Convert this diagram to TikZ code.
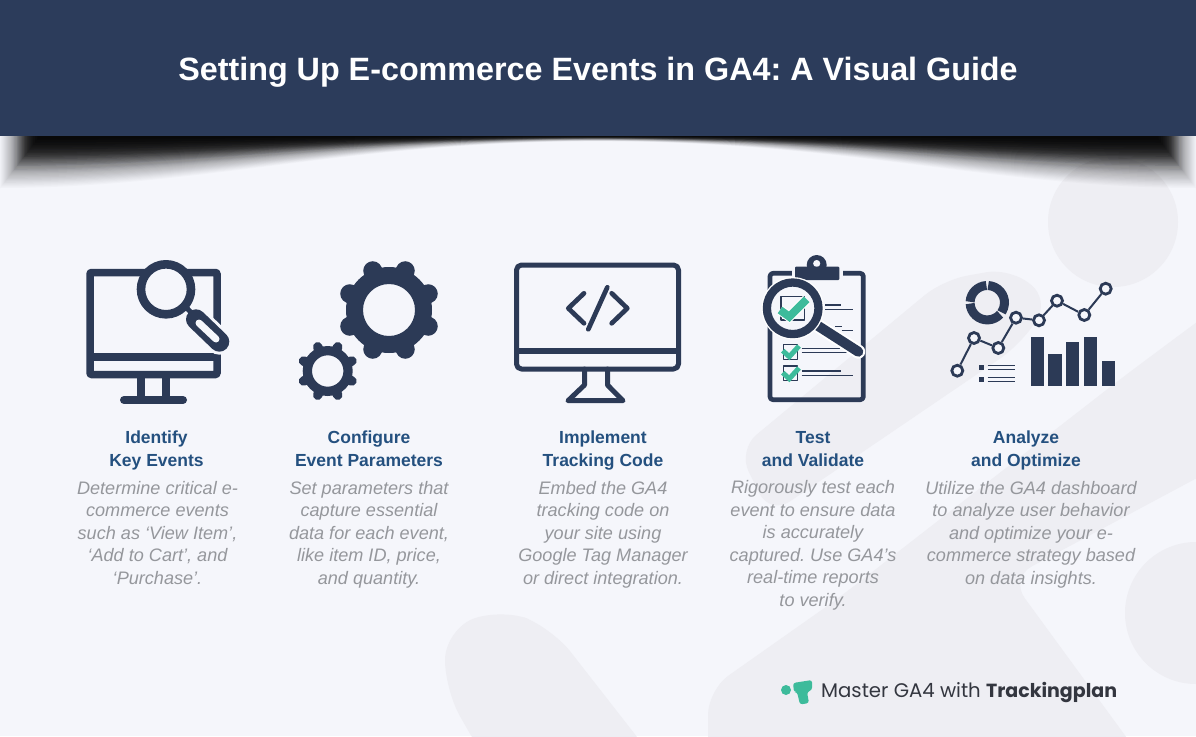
\documentclass[tikz,border=0pt]{standalone}
\usepackage{fontspec}
\setmainfont{Liberation Sans}
\newfontfamily\logofont{Poppins}
\usetikzlibrary{positioning}
\frenchspacing
\definecolor{pagebg}{HTML}{F5F6FB}
\definecolor{blobgray}{HTML}{EEEEF3}
\definecolor{bandblue}{HTML}{2C3C5B}
\definecolor{iconblue}{HTML}{2C3A56}
\definecolor{headblue}{HTML}{24507F}
\definecolor{bodygray}{HTML}{95979C}
\definecolor{checkgreen}{HTML}{3DBB9B}
\definecolor{logotext}{HTML}{33363F}
\tikzstyle{headtext} = [text=headblue, align=center, inner sep=0pt,
    font=\fontsize{17.5}{23}\selectfont\bfseries, execute at begin node=\strut]
\tikzstyle{bodytext} = [text=bodygray, align=center, inner sep=0pt,
    font=\fontsize{18.1}{22.5}\selectfont\itshape, execute at begin node=\strut]
\tikzstyle{iconline} = [draw=iconblue, line join=round]
\tikzstyle{dotmark} = [circle, draw=iconblue, fill=pagebg, line width=2.8pt, minimum size=11pt, inner sep=0pt]
\tikzstyle{barfill} = [fill=iconblue]
\tikzstyle{thinline} = [draw=iconblue, line width=1.3pt]

\begin{document}
\begin{tikzpicture}[x=1pt, y=-1pt]
	\useasboundingbox (0,0) rectangle (1196,736);
	\fill [pagebg] (0,0) rectangle (1196,736);

	% background shapes
	\fill [blobgray] (1113,222) circle (65);
	\fill [blobgray] (1196,613) circle (71);
	\fill [blobgray, rounded corners=24pt] (770,515) -- (738,450) -- (943,280) -- (1010,268) -- (1050,300) -- (1020,345) -- cycle;
	\fill [blobgray, rounded corners=25pt] (708,790) -- (708,690) -- (840,597) -- (1123,377) -- (1240,290) -- (1240,455) -- (1010,578) -- (1143,760) -- cycle;
	\fill [blobgray, rounded corners=30pt] (485,760) -- (445,690) -- (445,630) -- (500,608) -- (552,628) -- (655,760) -- cycle;

	% shadow under the band
	\foreach \i in {1,...,40} {
		\pgfmathsetmacro{\h}{1.3*\i}
		\pgfmathsetmacro{\xl}{40-\i}
		\pgfmathsetmacro{\xr}{1156+\i}
		\pgfmathsetmacro{\al}{0.02+0.09*exp(-((\i-14)/11)^2)}
		\fill [black, fill opacity=\al]
			(\xl,136) -- (\xl,{136+\h})
			.. controls (200,{136+\h}) and (350,{136+0.1*\h}) .. (598,{136+0.1*\h})
			.. controls (846,{136+0.1*\h}) and (996,{136+\h}) .. (\xr,{136+\h})
			-- (\xr,136) -- cycle;
	}
	\fill [bandblue] (0,0) rectangle (1196,136);
	\node [text=white, inner sep=0pt, font=\fontsize{32.3}{40}\selectfont\bfseries] (title) at (598,72) {Setting Up E-commerce Events in GA4: A Visual Guide};

	% monitor with magnifier
	\draw [iconline, line width=7.5pt, rounded corners=1pt] (90,272.5) rectangle (217,374.5);
	\draw [iconline, line width=8pt] (90,356.7) -- (217,356.7);
	\draw [iconline, line width=8pt] (140.8,378) -- (140.8,400) (166,378) -- (166,400);
	\draw [iconline, line width=8pt, line cap=round] (124,400) -- (183,400);
	\draw [pagebg, line width=26pt, line cap=round] (196,319.3) -- (219.3,341.7);
	\draw [iconline, line width=5pt] (184,305) -- (198,320);
	\draw [iconline, line width=20pt, line cap=round] (196,319.3) -- (219.3,341.7);
	\draw [pagebg, line width=7pt, line cap=round] (199,323) -- (216,339);
	\draw [iconline, fill=pagebg, line width=8.6pt] (166,289.3) circle (25);

	% two gears
	\fill [iconblue, even odd rule] (389,310) circle (43) (389,310) circle (26);
	\foreach \a in {22.5,67.5,...,337.5} {
		\draw [iconline, line width=19pt, line cap=round] (389,310) ++(\a:37pt) -- ++(\a:5.5pt);
	}
	\fill [iconblue, even odd rule] (327.7,371) circle (25) (327.7,371) circle (15.7);
	\foreach \a in {22.5,67.5,...,337.5} {
		\draw [iconline, line width=9.5pt, line cap=round] (327.7,371) ++(\a:22.5pt) -- ++(\a:3.7pt);
	}

	% monitor with code
	\draw [iconline, line width=5pt, rounded corners=5pt] (516.5,265) rectangle (678.5,369);
	\draw [iconline, line width=5.5pt] (516.5,351) -- (678.5,351);
	\draw [iconline, line width=5pt, line cap=round] (584.5,369) -- (584.5,385) -- (568,400.7) -- (623,400.7) -- (607.5,385) -- (607.5,369);
	\draw [iconline, line width=4.7pt, line cap=round] (584,293.3) -- (568.3,308.3) -- (584,323.3);
	\draw [iconline, line width=4.7pt, line cap=round] (611.7,293.3) -- (627.3,308.3) -- (611.7,323.3);
	\draw [iconline, line width=4.7pt, line cap=round] (607.3,287.3) -- (588.3,329.3);

	% clipboard
	\draw [iconline, line width=4.7pt, rounded corners=3pt] (770,273.3) rectangle (863.3,399.7);
	\fill [pagebg] (791.5,262) rectangle (842.5,282);
	\fill [iconblue, rounded corners=1pt] (795,266.7) rectangle (839.3,280);
	\fill [iconblue, even odd rule] (816.7,265) circle (10) (816.7,263.5) circle (3.7);
	\draw [thinline] (825,305) -- (840.7,305) (825,309.3) -- (853.3,309.3);
	\draw [thinline] (835,326.7) -- (841.7,326.7) (841.7,330.7) -- (853.3,330.7);
	\draw [thinline] (801.7,348.3) -- (840,348.3) (801.7,352.7) -- (846.7,352.7);
	\draw [thinline] (801.7,371) -- (840.7,371) (801.7,375.3) -- (853.3,375.3);
	\draw [iconline, line width=1.5pt] (783.3,344.3) rectangle (797.7,359.3);
	\draw [iconline, line width=1.5pt] (783.3,366) rectangle (797.7,380.7);
	\draw [checkgreen, line width=5pt] (782.7,350.7) -- (789.3,356.7) -- (799,346);
	\draw [checkgreen, line width=5pt] (782.7,372.7) -- (789.3,378.7) -- (799,368);
	\draw [white, line width=14pt, line cap=round] (816.7,325) -- (858.3,351.7);
	\draw [iconline, line width=10pt, line cap=round] (816.7,325) -- (858.3,351.7);
	\draw [white, fill=pagebg, line width=11pt] (792.7,308.3) circle (25.8);
	\draw [iconline, fill=pagebg, line width=8.3pt] (792.7,308.3) circle (25.8);
	\draw [iconline, line width=1.5pt] (781,296.7) rectangle (804.3,320);
	\draw [white, line width=10pt] (780,310) -- (789.3,316.7) -- (806.7,299.3);
	\draw [checkgreen, line width=8pt] (780,310) -- (789.3,316.7) -- (806.7,299.3);

	% analytics
	\draw [iconline, line width=9pt, line join=miter] (987.3,302.7) ++(93:17.2pt) arc[start angle=93, end angle=177, radius=17.2pt];
	\draw [iconline, line width=9pt, line join=miter] (987.3,302.7) ++(183:17.2pt) arc[start angle=183, end angle=318, radius=17.2pt];
	\draw [iconline, line width=9pt, line join=miter] (987.3,302.7) ++(87:17.2pt) arc[start angle=87, end angle=-34, radius=17.2pt];
	\node [dotmark] (p1) at (957.3,370.7) {};
	\node [dotmark] (p2) at (974,338) {};
	\node [dotmark] (p3) at (998.3,348) {};
	\node [dotmark] (p4) at (1016,317.7) {};
	\node [dotmark] (p5) at (1039,320.3) {};
	\node [dotmark] (p6) at (1057,300.7) {};
	\node [dotmark] (p7) at (1084.3,315) {};
	\node [dotmark] (p8) at (1105.7,288.7) {};
	\draw [iconline, line width=2pt] (p1) -- (p2);
	\draw [iconline, line width=2pt] (p2) -- (p3);
	\draw [iconline, line width=2pt] (p3) -- (p4);
	\draw [iconline, line width=2pt] (p4) -- (p5);
	\draw [iconline, line width=2pt] (p5) -- (p6);
	\draw [iconline, line width=2pt] (p6) -- (p7);
	\draw [iconline, line width=2pt] (p7) -- (p8);
	\fill [barfill] (1030.7,337.3) rectangle (1044,386);
	\fill [barfill] (1048.3,354) rectangle (1061.7,386);
	\fill [barfill] (1066,341.7) rectangle (1079.3,386);
	\fill [barfill] (1084,337.3) rectangle (1097.3,386);
	\fill [barfill] (1101.7,361) rectangle (1115,386);
	\fill [barfill] (979.3,365) rectangle (984.3,370);
	\fill [barfill] (979.3,377.3) rectangle (984.3,382.3);
	\draw [thinline] (987.7,365.3) -- (1014.7,365.3) (987.7,369.3) -- (1014.7,369.3);
	\draw [thinline] (987.7,377.7) -- (1014.7,377.7) (987.7,381.7) -- (1014.7,381.7);

	% texts
	\node [headtext, anchor=north] (head1) at (156.5,431) {Identify\\Key Events};
	\node [bodytext, below=7pt of head1, xshift=1pt] (body1) {Determine critical e-\\commerce events\\such as ‘View Item’,\\‘Add to Cart’, and\\‘Purchase’.};
	\node [headtext, anchor=north] (head2) at (369,431) {Configure\\Event Parameters};
	\node [bodytext, below=7pt of head2] (body2) {Set parameters that\\capture essential\\data for each event,\\like item ID, price,\\and quantity.};
	\node [headtext, anchor=north] (head3) at (603,431) {Implement\\Tracking Code};
	\node [bodytext, below=7pt of head3] (body3) {Embed the GA4\\tracking code on\\your site using\\Google Tag Manager\\or direct integration.};
	\node [headtext, anchor=north] (head4) at (813,431) {Test\\and Validate};
	\node [bodytext, below=7pt of head4] (body4) {Rigorously test each\\event to ensure data\\is accurately\\captured. Use GA4\symbol{39}s\\real-time reports\\to verify.};
	\node [headtext, anchor=north] (head5) at (1026,431) {Analyze\\and Optimize};
	\node [bodytext, below=7pt of head5, xshift=5pt] (body5) {Utilize the GA4 dashboard\\to analyze user behavior\\and optimize your e-\\commerce strategy based\\on data insights.};

	% logo
	\fill [checkgreen] (786,690) circle (5);
	\fill [checkgreen, rounded corners=2.5pt] (793,683) -- (812,680) -- (812,690) -- (807,692) -- (809,703) -- (800,704.5) -- (797,692) -- (794,692) -- cycle;
	\node [text=logotext, inner sep=0pt, anchor=west, font=\logofont\fontsize{19.7}{23}\selectfont] (logotxt) at (821,692) {Master GA4 with {\fontsize{19}{23}\selectfont\bfseries Trackingplan}};
\end{tikzpicture}
\end{document}
